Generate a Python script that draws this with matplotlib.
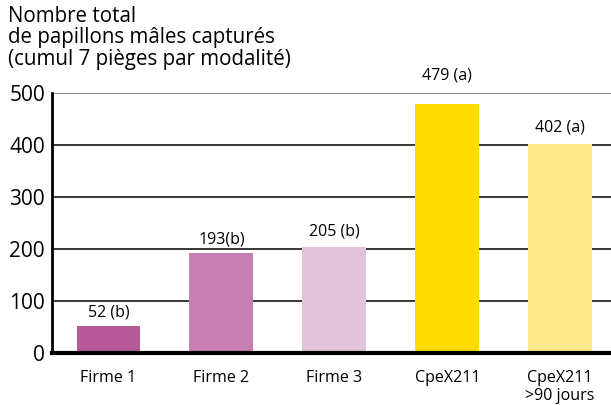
import matplotlib
matplotlib.use("Agg")
import matplotlib.pyplot as plt

categories = ["Firme 1", "Firme 2", "Firme 3", "CpeX211", "CpeX211\n>90 jours"]
values = [52, 193, 205, 479, 402]
labels = ["52 (b)", "193(b)", "205 (b)", "479 (a)", "402 (a)"]
colors = ["#b75a98", "#c77fb3", "#e2c3dc", "#ffdc00", "#ffe98a"]
label_gap = [14, 13, 15, 29, 17]   # px above bar top (label centre)
yticks = [0, 100, 200, 300, 400, 500]

plt.rcParams["font.family"] = ["Open Sans", "DejaVu Sans"]

fig = plt.figure(figsize=(6.11, 4.05), dpi=100)
ax = fig.add_axes([0.0851, 0.128, 0.9149, 0.642])

x = range(len(categories))
ax.bar(x, values, width=0.566, color=colors, zorder=3)
for xi, v, lab, g in zip(x, values, labels, label_gap):
    ax.annotate(lab, (xi, v), xytext=(0, g * 0.72), textcoords="offset points",
                ha="center", va="center", fontsize=11.5)

for t in yticks[1:]:
    ax.axhline(t, color="#666666" if t == 500 else "black", lw=1.1, zorder=1)

ax.set_xlim(-0.5, 4.45)
ax.set_ylim(0, 500)
ax.set_yticks(yticks)
ax.set_yticklabels([str(t) for t in yticks], fontsize=15)
ax.set_xticks(list(x))
ax.set_xticklabels(categories, fontsize=11.5, linespacing=1.2, va="top")
ax.tick_params(axis="both", length=0)
ax.tick_params(axis="x", pad=12)
ax.tick_params(axis="y", pad=5)

for s in ["top", "right"]:
    ax.spines[s].set_visible(False)
ax.spines["left"].set_linewidth(2)
ax.spines["bottom"].set_linewidth(3)
ax.spines["bottom"].set_zorder(4)

fig.text(0.013, 0.985, "Nombre total\nde papillons mâles capturés\n(cumul 7 pièges par modalité)",
         ha="left", va="top", fontsize=14.8, linespacing=1.02)

fig.savefig("out.png", dpi=100)
